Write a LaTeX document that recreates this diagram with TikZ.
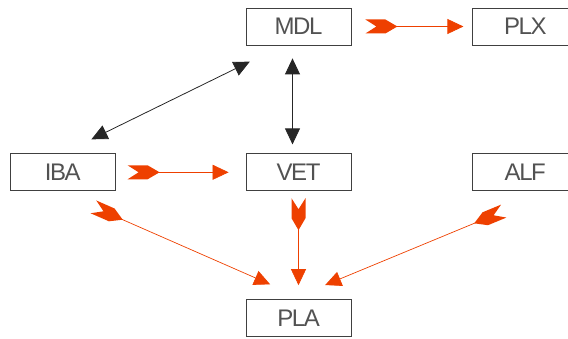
\documentclass[tikz,border=0pt]{standalone}
\usepackage{fontspec}
\usepackage{xcolor}
\usepackage{tikz}
\usetikzlibrary{positioning,arrows.meta}

\newfontfamily\boxfont[LetterSpace=-6]{Liberation Sans}
\definecolor{orng}{HTML}{EE4000}

% feathered tail for the start of a flow
\pgfdeclarearrow{
  name = Fletching,
  setup code = {
    \pgfarrowssettipend{0pt}
    \pgfarrowssetbackend{-32pt}
    \pgfarrowssetlineend{-22pt}
    \pgfarrowshullpoint{0pt}{7pt}
    \pgfarrowshullpoint{0pt}{-7pt}
    \pgfarrowshullpoint{-32pt}{0pt}
  },
  drawing code = {
    \pgfpathmoveto{\pgfpoint{0pt}{7pt}}
    \pgfpathlineto{\pgfpoint{-20pt}{7pt}}
    \pgfpathlineto{\pgfpoint{-32pt}{0pt}}
    \pgfpathlineto{\pgfpoint{-20pt}{-7pt}}
    \pgfpathlineto{\pgfpoint{0pt}{-7pt}}
    \pgfpathlineto{\pgfpoint{-11pt}{0pt}}
    \pgfpathclose
    \pgfusepathqfill
  }
}

\tikzset{
  box/.style={rectangle, minimum width=105pt, minimum height=37pt, inner sep=0pt, draw=black!75, line width=0.8pt, text=black!68, font=\boxfont\fontsize{24pt}{24pt}\selectfont},
  flow/.style={draw=orng, color=orng, line width=0.7pt, arrows={Fletching-Triangle[length=16pt,width=15pt]}},
  link/.style={draw=black!85, color=black!85, line width=0.8pt, arrows={Triangle[length=16pt,width=15pt]-Triangle[length=16pt,width=15pt]}}
}

\begin{document}
\begin{tikzpicture}
\useasboundingbox (0,0) rectangle (568pt,339pt);

\node (mdl) [box] at (298.5pt,312.5pt) {MDL};
\node (plx) [box, right=121pt of mdl] {PLX};
\node (vet) [box, below=108pt of mdl] {VET};
\node (iba) [box, left=130pt of vet] {IBA};
\node (alf) [box, right=121pt of vet] {ALF};
\node (pla) [box, below=108pt of vet] {PLA};

\draw[flow, shorten <=14pt, shorten >=9pt] (mdl) -- (plx);
\draw[flow, shorten <=12pt, shorten >=17pt] (iba) -- (vet);
\draw[flow, shorten <=7pt, shorten >=14pt] (vet) -- (pla);
\draw[flow, shorten <=39pt, shorten >=37pt] ([xshift=-5pt]iba.south) -- ([xshift=5.5pt]pla.north);
\draw[flow, shorten <=52pt, shorten >=37pt] ([xshift=26.5pt]alf.south) -- ([xshift=-7.5pt]pla.north);

\draw[link, shorten <=13pt, shorten >=9pt] ([xshift=-6pt]mdl.south) -- ([xshift=-6pt]vet.north);
\draw[link, shorten <=37pt, shorten >=32pt] ([xshift=-15.5pt]mdl.south) -- (iba.north);
\end{tikzpicture}
\end{document}
